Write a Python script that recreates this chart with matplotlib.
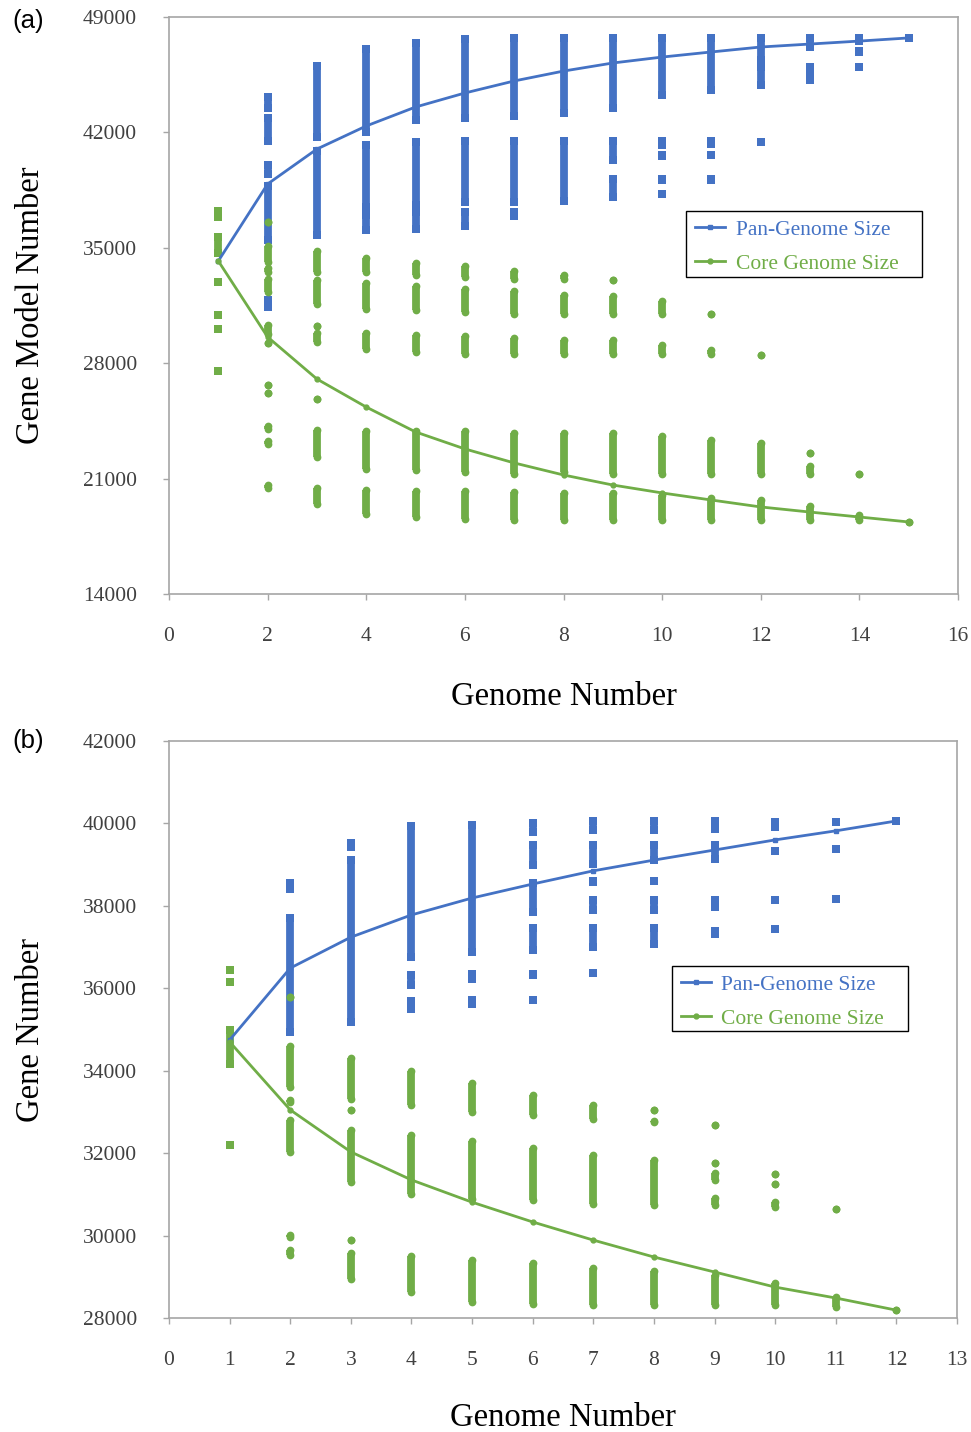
import matplotlib
matplotlib.use("Agg")
import numpy as np
from matplotlib import pyplot as plt
from matplotlib.lines import Line2D
from matplotlib.patches import Rectangle

plt.rcParams["font.family"] = ["Liberation Serif", "DejaVu Serif"]

BLUE = "#4472C4"
GREEN = "#70AD47"
SPINE = "#A6A6A6"
TICK_TEXT = "#404040"

# ---------- panel (a) ----------
a_genomes = list(range(1, 16))
a_pan_line = [34200, 38870, 40990, 42390, 43540, 44390, 45120, 45720,
              46210, 46570, 46880, 47180, 47360, 47540, 47730]
a_core_line = [34200, 29590, 27040, 25340, 23830, 22800, 21950, 21220,
               20610, 20130, 19700, 19280, 18970, 18670, 18370]

# clusters of sampled values: (genome number, low, high)
a_first = [(1, 36850, 37250), (1, 34700, 35650), (1, 32900, 32900),
           (1, 30920, 30920), (1, 30070, 30070), (1, 27530, 27530)]

a_pan = [
    (2, 43500, 44150), (2, 41500, 42850), (2, 39500, 40000), (2, 35450, 38750), (2, 31400, 31850),
    (3, 41700, 46050), (3, 35750, 40900),
    (4, 42000, 47050), (4, 37450, 41250), (4, 36050, 37000),
    (5, 42750, 47450), (5, 37600, 41400), (5, 36150, 37150),
    (6, 42900, 47650), (6, 37750, 41450), (6, 36300, 37150),
    (7, 43000, 47700), (7, 37750, 41450), (7, 36950, 37150),
    (8, 43200, 47700), (8, 37850, 41500),
    (9, 43500, 47700), (9, 40300, 41500), (9, 38100, 39150),
    (10, 44250, 47700), (10, 41250, 41500), (10, 40550, 40600), (10, 39100, 39150), (10, 38250, 38250),
    (11, 44600, 47700), (11, 41300, 41500), (11, 40600, 40600), (11, 39100, 39150),
    (12, 46400, 47700), (12, 44850, 45950), (12, 41400, 41400),
    (13, 47150, 47700), (13, 45650, 45950), (13, 45150, 45200),
    (14, 47550, 47700), (14, 46900, 46950), (14, 45950, 45950),
    (15, 47730, 47730),
]

a_core = [
    (2, 36560, 36560), (2, 34140, 35110), (2, 33550, 33750), (2, 32320, 33110), (2, 29770, 30320),
    (2, 29200, 29200), (2, 26680, 26680), (2, 26190, 26190), (2, 24000, 24200), (2, 23100, 23300),
    (2, 20450, 20600),
    (3, 33530, 34810), (3, 31590, 33050), (3, 30230, 30230), (3, 29280, 29830), (3, 25830, 25830),
    (3, 22310, 23950), (3, 19460, 20430),
    (4, 33530, 34380), (4, 31280, 32870), (4, 28860, 29830), (4, 21580, 23890), (4, 18850, 20310),
    (5, 33350, 34080), (5, 31220, 32680), (5, 28680, 29710), (5, 21520, 23890), (5, 18670, 20250),
    (6, 33230, 33900), (6, 31100, 32500), (6, 28560, 29650), (6, 21400, 23890), (6, 18550, 20250),
    (7, 33110, 33590), (7, 30980, 32380), (7, 28560, 29530), (7, 21280, 23770), (7, 18490, 20190),
    (8, 33110, 33350), (8, 30980, 32140), (8, 28560, 29410), (8, 21400, 23770), (8, 18490, 20130),
    (9, 33050, 33050), (9, 30980, 32080), (9, 28560, 29410), (9, 21280, 23770), (9, 18490, 20130),
    (10, 30980, 31770), (10, 28560, 29110), (10, 21280, 23590), (10, 18490, 20010),
    (11, 30980, 30980), (11, 28560, 28800), (11, 21280, 23340), (11, 18490, 19820),
    (12, 28500, 28500), (12, 21280, 23160), (12, 18490, 19700),
    (13, 22550, 22550), (13, 21280, 21760), (13, 18490, 19340),
    (14, 21280, 21280), (14, 18490, 18790),
    (15, 18370, 18370),
]

# ---------- panel (b) ----------
b_genomes = list(range(1, 13))
b_pan_line = [34745, 36490, 37240, 37780, 38190, 38530, 38850, 39110,
              39355, 39600, 39820, 40060]
b_core_line = [34700, 33050, 32030, 31350, 30810, 30330, 29890, 29480,
               29116, 28750, 28485, 28190]

b_first = [(1, 36450, 36450), (1, 36150, 36150), (1, 34160, 34990), (1, 32200, 32200)]

b_pan = [
    (2, 38400, 38560), (2, 34940, 37710),
    (3, 39420, 39530), (3, 35180, 39110),
    (4, 36760, 39940), (4, 36080, 36330), (4, 35490, 35690),
    (5, 36880, 39960), (5, 36220, 36350), (5, 35610, 35720),
    (6, 39790, 40010), (6, 38990, 39480), (6, 37850, 38560), (6, 36925, 37465), (6, 36320, 36350),
    (6, 35720, 35720),
    (7, 39840, 40060), (7, 39010, 39480), (7, 38580, 38600), (7, 37900, 38150), (7, 37000, 37465),
    (7, 36370, 36370),
    (8, 39840, 40060), (8, 39110, 39480), (8, 38610, 38610), (8, 37900, 38150), (8, 37070, 37465),
    (9, 39860, 40060), (9, 39140, 39480), (9, 37970, 38150), (9, 37320, 37390),
    (10, 39920, 40045), (10, 39340, 39340), (10, 38140, 38140), (10, 37430, 37430),
    (11, 40045, 40045), (11, 39370, 39370), (11, 38170, 38170),
    (12, 40060, 40060),
]

b_core = [
    (2, 35790, 35790), (2, 33600, 34600), (2, 33240, 33290), (2, 32030, 32810), (2, 29960, 30020),
    (2, 29530, 29650),
    (3, 33310, 34310), (3, 33050, 33050), (3, 31300, 32560), (3, 29890, 29890), (3, 28940, 29580),
    (4, 33170, 34000), (4, 31000, 32440), (4, 28630, 29510),
    (5, 33000, 33700), (5, 30890, 32300), (5, 28390, 29410),
    (6, 32920, 33410), (6, 30860, 32130), (6, 28340, 29340),
    (7, 32830, 33170), (7, 30760, 31960), (7, 28310, 29220),
    (8, 33045, 33045), (8, 32750, 32780), (8, 30740, 31830), (8, 28310, 29140),
    (9, 32680, 32680), (9, 31760, 31760), (9, 31350, 31520), (9, 30740, 30910), (9, 28310, 29040),
    (10, 31495, 31495), (10, 31250, 31250), (10, 30690, 30820), (10, 28310, 28850),
    (11, 30645, 30645), (11, 28260, 28510),
    (12, 28190, 28190),
]


def draw_clusters(ax, clusters, color, marker):
    """Рисует столбики из плотно лежащих точек: линия между краями и маркеры на концах."""
    xs = np.array([c[0] for c in clusters], dtype=float)
    lo = np.array([c[1] for c in clusters], dtype=float)
    hi = np.array([c[2] for c in clusters], dtype=float)
    ax.vlines(xs, lo, hi, colors=color, linewidth=5.6, zorder=2)
    ax.scatter(np.concatenate([xs, xs]), np.concatenate([lo, hi]), s=31,
               marker=marker, color=color, linewidths=0, zorder=2)


def draw_panel(ax, genomes, pan_line, core_line, first, pan, core,
               ylim, yticks, xlim, xticks, ylabel, legend_box, xlabel_y):
    draw_clusters(ax, pan, BLUE, "s")
    draw_clusters(ax, core, GREEN, "o")
    draw_clusters(ax, first, GREEN, "s")

    ax.plot(genomes, pan_line, color=BLUE, linewidth=2.0, marker="s",
            markersize=3.5, zorder=3)
    ax.plot(genomes, core_line, color=GREEN, linewidth=2.0, marker="o",
            markersize=3.5, zorder=3)

    ax.set_xlim(*xlim)
    ax.set_ylim(*ylim)
    ax.set_xticks(xticks)
    ax.set_yticks(yticks)
    for side in ax.spines.values():
        side.set_color(SPINE)
        side.set_linewidth(1.2)
    ax.tick_params(direction="out", length=4.5, width=1.0, color=SPINE,
                   labelsize=15.5, labelcolor=TICK_TEXT)
    ax.tick_params(axis="y", pad=18.5)
    ax.tick_params(axis="x", pad=19.5)

    ax.set_xlabel("Genome Number", fontsize=23.5, color="black")
    ax.xaxis.set_label_coords(0.5, xlabel_y)
    ax.set_ylabel(ylabel, fontsize=23.5, color="black")
    ax.yaxis.set_label_coords(-0.156, 0.5)

    # рамка легенды как в Excel: справа остаётся пустое место
    x0, y0, x1, y1 = legend_box
    ax.add_patch(Rectangle((x0, y0), x1 - x0, y1 - y0, transform=ax.transAxes,
                           facecolor="white", edgecolor="black", linewidth=1.0,
                           zorder=4))
    handles = [
        Line2D([0], [0], color=BLUE, linewidth=2.0, marker="s", markersize=3.5),
        Line2D([0], [0], color=GREEN, linewidth=2.0, marker="o", markersize=3.5),
    ]
    leg = ax.legend(handles, ["Pan-Genome Size", "Core Genome Size"],
                    loc="upper left", bbox_to_anchor=(x0, y1),
                    fontsize=15.5, frameon=False,
                    handlelength=1.4, handletextpad=0.5, borderpad=0.4,
                    labelspacing=0.65, borderaxespad=0.0)
    leg.set_zorder(5)
    leg.get_texts()[0].set_color(BLUE)
    leg.get_texts()[1].set_color(GREEN)


fig = plt.figure(figsize=(9.71, 14.32), dpi=100)
ax_a = fig.add_axes([169 / 971, 1 - 594 / 1432, 789 / 971, 577 / 1432])
ax_b = fig.add_axes([169 / 971, 1 - 1318 / 1432, 788 / 971, 577 / 1432])

draw_panel(ax_a, a_genomes, a_pan_line, a_core_line, a_first, a_pan, a_core,
           (14000, 49000), np.arange(14000, 49001, 7000), (0, 16), np.arange(0, 17, 2),
           "Gene Model Number", (0.6553, 0.5494, 0.9544, 0.6638), -0.152)
draw_panel(ax_b, b_genomes, b_pan_line, b_core_line, b_first, b_pan, b_core,
           (28000, 42000), np.arange(28000, 42001, 2000), (0, 13), np.arange(0, 14, 1),
           "Gene Number", (0.6383, 0.4974, 0.9378, 0.6101), -0.146)

fig.text(12 / 971, 1 - 21 / 1432, "(a)", fontsize=18.5, family="Liberation Sans",
         ha="left", va="center")
fig.text(12 / 971, 1 - 741 / 1432, "(b)", fontsize=18.5, family="Liberation Sans",
         ha="left", va="center")

fig.savefig("out.png", dpi=100)
